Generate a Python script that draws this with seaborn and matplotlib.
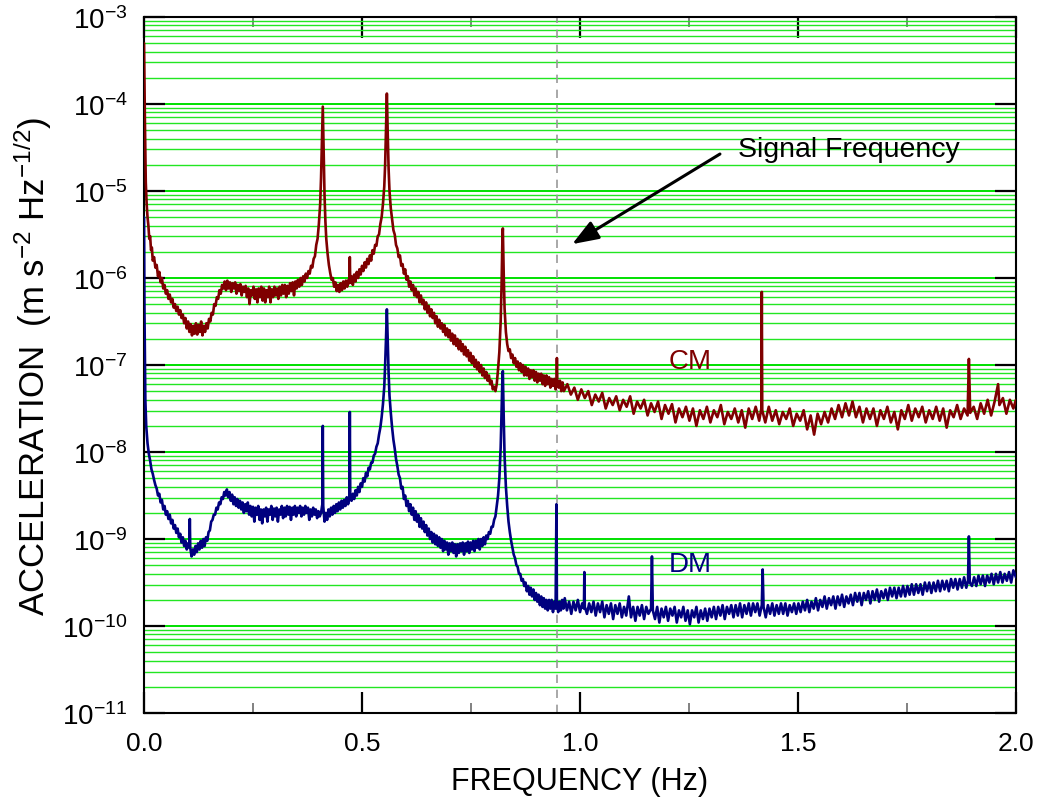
import numpy as np
import pandas as pd
import matplotlib
matplotlib.use("Agg")
import matplotlib.pyplot as plt
import seaborn as sns
from matplotlib.ticker import LogLocator, MultipleLocator, NullFormatter

# ---- data: (frequency Hz, log10 acceleration) ----
cm_points = [
    (0.000,-3.30),(0.002,-4.20),(0.004,-4.90),(0.006,-5.15),(0.008,-5.30),(0.010,-5.40),(0.012,-5.55),
    (0.014,-5.52),(0.016,-5.68),(0.018,-5.65),(0.020,-5.80),(0.023,-5.76),(0.026,-5.88),(0.029,-5.85),
    (0.032,-5.98),(0.035,-5.93),(0.038,-6.05),(0.041,-6.00),(0.044,-6.12),(0.047,-6.08),(0.050,-6.18),
    (0.053,-6.14),(0.056,-6.24),(0.059,-6.19),(0.062,-6.28),(0.065,-6.24),(0.068,-6.34),(0.071,-6.30),
    (0.074,-6.38),(0.077,-6.33),(0.080,-6.42),(0.083,-6.37),(0.086,-6.46),(0.089,-6.42),(0.092,-6.52),
    (0.095,-6.46),(0.098,-6.58),(0.101,-6.50),(0.104,-6.62),(0.107,-6.53),(0.110,-6.66),(0.113,-6.55),
    (0.116,-6.64),(0.119,-6.52),(0.122,-6.65),(0.125,-6.54),(0.128,-6.62),(0.131,-6.50),(0.134,-6.66),
    (0.137,-6.55),(0.140,-6.62),(0.143,-6.52),(0.146,-6.58),(0.149,-6.47),(0.152,-6.50),(0.155,-6.40),
    (0.158,-6.42),(0.161,-6.30),(0.164,-6.32),(0.167,-6.22),(0.170,-6.24),(0.173,-6.14),(0.176,-6.18),
    (0.179,-6.08),(0.182,-6.12),(0.185,-6.04),(0.188,-6.14),(0.191,-6.03),(0.194,-6.12),(0.197,-6.05),
    (0.200,-6.16),(0.203,-6.06),(0.206,-6.12),(0.209,-6.05),(0.212,-6.18),(0.215,-6.08),(0.218,-6.15),
    (0.221,-6.07),(0.224,-6.20),(0.227,-6.10),(0.230,-6.16),(0.233,-6.09),(0.236,-6.22),(0.239,-6.12),
    (0.242,-6.30),(0.245,-6.14),(0.248,-6.20),(0.251,-6.10),(0.254,-6.24),(0.257,-6.13),(0.260,-6.28),
    (0.263,-6.12),(0.266,-6.22),(0.269,-6.10),(0.272,-6.26),(0.275,-6.12),(0.278,-6.28),(0.281,-6.14),
    (0.284,-6.22),(0.287,-6.10),(0.290,-6.28),(0.293,-6.13),(0.296,-6.22),(0.299,-6.10),(0.302,-6.20),
    (0.305,-6.12),(0.308,-6.24),(0.311,-6.10),(0.314,-6.20),(0.317,-6.08),(0.320,-6.18),(0.323,-6.08),
    (0.326,-6.22),(0.329,-6.09),(0.332,-6.18),(0.335,-6.06),(0.338,-6.15),(0.341,-6.05),(0.344,-6.20),
    (0.347,-6.04),(0.350,-6.12),(0.353,-6.02),(0.356,-6.10),(0.359,-6.00),(0.362,-6.08),(0.365,-5.98),
    (0.368,-6.04),(0.371,-5.95),(0.374,-6.00),(0.377,-5.92),(0.380,-5.95),(0.383,-5.86),(0.386,-5.88),
    (0.389,-5.78),(0.392,-5.75),(0.395,-5.62),(0.398,-5.55),(0.401,-5.38),(0.404,-5.15),(0.406,-4.85),
    (0.408,-4.45),(0.410,-4.03),(0.412,-4.55),(0.414,-5.05),(0.416,-5.35),(0.418,-5.55),(0.421,-5.72),
    (0.424,-5.85),(0.427,-5.94),(0.430,-6.02),(0.433,-6.00),(0.436,-6.10),(0.439,-6.05),(0.442,-6.15),
    (0.445,-6.08),(0.448,-6.16),(0.451,-6.06),(0.454,-6.14),(0.457,-6.04),(0.460,-6.12),(0.463,-6.03),
    (0.466,-6.10),(0.469,-6.02),(0.471,-6.06),(0.472,-5.76),(0.473,-6.05),(0.476,-5.98),(0.479,-6.08),
    (0.482,-5.96),(0.485,-6.04),(0.488,-5.93),(0.491,-6.00),(0.494,-5.90),(0.497,-5.96),(0.500,-5.86),
    (0.503,-5.92),(0.506,-5.82),(0.509,-5.88),(0.512,-5.78),(0.515,-5.84),(0.518,-5.74),(0.521,-5.80),
    (0.524,-5.68),(0.527,-5.72),(0.530,-5.62),(0.533,-5.63),(0.536,-5.52),(0.539,-5.50),(0.542,-5.38),
    (0.545,-5.30),(0.548,-5.15),(0.551,-4.95),(0.553,-4.70),(0.555,-4.30),(0.557,-3.88),(0.559,-4.35),
    (0.561,-4.75),(0.563,-5.00),(0.566,-5.20),(0.569,-5.32),(0.572,-5.45),(0.575,-5.50),(0.578,-5.62),
    (0.581,-5.66),(0.584,-5.76),(0.587,-5.74),(0.590,-5.86),(0.593,-5.84),(0.596,-5.95),(0.599,-5.90),
    (0.602,-6.02),(0.605,-5.98),(0.608,-6.10),(0.611,-6.04),(0.614,-6.14),(0.617,-6.08),(0.620,-6.20),
    (0.623,-6.12),(0.626,-6.22),(0.629,-6.16),(0.632,-6.28),(0.635,-6.20),(0.638,-6.30),(0.641,-6.25),
    (0.644,-6.36),(0.647,-6.28),(0.650,-6.40),(0.653,-6.32),(0.656,-6.44),(0.659,-6.36),(0.662,-6.46),
    (0.665,-6.40),(0.668,-6.52),(0.671,-6.44),(0.674,-6.56),(0.677,-6.48),(0.680,-6.58),(0.683,-6.52),
    (0.686,-6.62),(0.689,-6.54),(0.692,-6.66),(0.695,-6.58),(0.698,-6.68),(0.701,-6.60),(0.704,-6.72),
    (0.707,-6.64),(0.710,-6.76),(0.713,-6.66),(0.716,-6.78),(0.719,-6.70),(0.722,-6.82),(0.725,-6.72),
    (0.728,-6.84),(0.731,-6.76),(0.734,-6.88),(0.737,-6.79),(0.740,-6.90),(0.743,-6.83),(0.746,-6.95),
    (0.749,-6.86),(0.752,-6.98),(0.755,-6.90),(0.758,-7.02),(0.761,-6.94),(0.764,-7.05),(0.767,-6.97),
    (0.770,-7.08),(0.773,-7.00),(0.776,-7.12),(0.779,-7.04),(0.782,-7.15),(0.785,-7.08),(0.788,-7.18),
    (0.791,-7.12),(0.794,-7.22),(0.797,-7.18),(0.800,-7.28),(0.803,-7.25),(0.806,-7.30),(0.809,-7.22),
    (0.812,-7.05),(0.815,-6.85),(0.818,-6.50),(0.820,-6.10),(0.822,-5.55),(0.823,-5.43),(0.825,-5.95),
    (0.827,-6.35),(0.830,-6.62),(0.833,-6.76),(0.836,-6.84),(0.839,-6.82),(0.842,-6.92),(0.845,-6.88),
    (0.848,-6.98),(0.851,-6.92),(0.854,-7.02),(0.857,-6.96),(0.860,-7.06),(0.863,-6.98),(0.866,-7.08),
    (0.869,-7.00),(0.872,-7.12),(0.875,-7.02),(0.878,-7.12),(0.881,-7.04),(0.884,-7.16),(0.887,-7.06),
    (0.890,-7.14),(0.893,-7.06),(0.896,-7.18),(0.899,-7.08),(0.902,-7.20),(0.905,-7.10),(0.908,-7.18),
    (0.911,-7.10),(0.914,-7.22),(0.917,-7.12),(0.920,-7.24),(0.923,-7.12),(0.926,-7.22),(0.929,-7.14),
    (0.932,-7.26),(0.935,-7.16),(0.938,-7.24),(0.941,-7.16),(0.944,-7.28),(0.946,-7.20),(0.947,-6.92),
    (0.948,-7.20),(0.951,-7.26),(0.954,-7.18),(0.957,-7.30),(0.960,-7.20),
    (0.963,-7.30),(0.971,-7.22),(0.979,-7.34),(0.987,-7.26),(0.995,-7.40),(1.003,-7.28),(1.011,-7.38),
    (1.019,-7.30),(1.027,-7.46),(1.035,-7.34),(1.043,-7.42),(1.051,-7.32),(1.059,-7.50),(1.067,-7.38),
    (1.075,-7.46),(1.083,-7.36),(1.091,-7.52),(1.099,-7.40),(1.107,-7.48),(1.115,-7.36),(1.123,-7.56),
    (1.131,-7.42),(1.139,-7.50),(1.147,-7.40),(1.155,-7.58),(1.163,-7.44),(1.171,-7.54),(1.179,-7.42),
    (1.187,-7.62),(1.195,-7.46),(1.203,-7.56),(1.211,-7.45),(1.219,-7.66),(1.227,-7.50),(1.235,-7.60),
    (1.243,-7.48),(1.251,-7.64),(1.259,-7.50),(1.267,-7.70),(1.275,-7.52),(1.283,-7.62),(1.291,-7.48),
    (1.299,-7.66),(1.307,-7.52),(1.315,-7.60),(1.323,-7.46),(1.331,-7.68),(1.339,-7.54),(1.347,-7.62),
    (1.355,-7.50),(1.363,-7.66),(1.371,-7.52),(1.379,-7.72),(1.387,-7.50),(1.395,-7.62),(1.403,-7.48),
    (1.411,-7.64),(1.416,-7.50),(1.417,-6.16),(1.418,-7.52),(1.425,-7.66),(1.433,-7.48),(1.441,-7.64),
    (1.449,-7.52),(1.457,-7.68),(1.465,-7.54),(1.473,-7.62),(1.481,-7.50),(1.489,-7.70),(1.497,-7.56),
    (1.505,-7.64),(1.513,-7.52),(1.521,-7.74),(1.529,-7.58),(1.537,-7.80),(1.545,-7.56),(1.553,-7.68),
    (1.561,-7.54),(1.569,-7.66),(1.577,-7.50),(1.585,-7.62),(1.593,-7.46),(1.601,-7.60),(1.609,-7.44),
    (1.617,-7.58),(1.625,-7.42),(1.633,-7.60),(1.641,-7.48),(1.649,-7.66),(1.657,-7.50),(1.665,-7.62),
    (1.673,-7.50),(1.681,-7.70),(1.689,-7.52),(1.697,-7.62),(1.705,-7.48),(1.713,-7.66),(1.721,-7.54),
    (1.729,-7.74),(1.737,-7.52),(1.745,-7.62),(1.753,-7.46),(1.761,-7.64),(1.769,-7.50),(1.777,-7.60),
    (1.785,-7.48),(1.793,-7.66),(1.801,-7.52),(1.809,-7.62),(1.817,-7.48),(1.825,-7.64),(1.833,-7.50),
    (1.841,-7.72),(1.849,-7.52),(1.857,-7.60),(1.865,-7.46),(1.873,-7.62),(1.881,-7.50),(1.889,-7.58),
    (1.892,-6.93),(1.895,-7.55),(1.903,-7.48),(1.911,-7.62),(1.919,-7.44),(1.927,-7.56),(1.935,-7.40),
    (1.943,-7.58),(1.951,-7.42),(1.959,-7.22),(1.962,-7.46),(1.970,-7.38),(1.978,-7.56),(1.986,-7.40),
    (1.994,-7.50),(2.000,-7.40),
]

dm_points = [
    (0.000,-5.30),(0.001,-6.40),(0.003,-7.40),(0.005,-7.70),(0.008,-7.90),(0.011,-8.02),(0.014,-8.10),
    (0.017,-8.20),(0.020,-8.25),(0.023,-8.32),(0.026,-8.38),(0.029,-8.42),(0.032,-8.50),(0.035,-8.48),
    (0.038,-8.58),(0.041,-8.55),(0.044,-8.66),(0.047,-8.62),(0.050,-8.72),(0.053,-8.68),(0.056,-8.77),
    (0.059,-8.72),(0.062,-8.82),(0.065,-8.78),(0.068,-8.88),(0.071,-8.84),(0.074,-8.93),(0.077,-8.88),
    (0.080,-8.98),(0.083,-8.94),(0.086,-9.04),(0.089,-8.98),(0.092,-9.08),(0.095,-9.02),(0.098,-9.12),
    (0.101,-9.05),(0.104,-9.10),(0.105,-8.77),(0.106,-9.10),(0.109,-9.20),(0.112,-9.12),(0.115,-9.18),
    (0.118,-9.08),(0.121,-9.15),(0.124,-9.05),(0.127,-9.12),(0.130,-9.02),(0.133,-9.10),(0.136,-9.00),
    (0.139,-9.08),(0.142,-8.98),(0.145,-9.02),(0.148,-8.92),(0.151,-8.90),(0.154,-8.80),(0.157,-8.78),
    (0.160,-8.72),(0.163,-8.72),(0.166,-8.64),(0.169,-8.66),(0.172,-8.58),(0.175,-8.60),(0.178,-8.52),
    (0.181,-8.54),(0.184,-8.46),(0.187,-8.50),(0.190,-8.43),(0.193,-8.52),(0.196,-8.46),(0.199,-8.56),
    (0.202,-8.49),(0.205,-8.60),(0.208,-8.52),(0.211,-8.62),(0.214,-8.54),(0.217,-8.64),(0.220,-8.56),
    (0.223,-8.66),(0.226,-8.58),(0.229,-8.70),(0.232,-8.60),(0.235,-8.68),(0.238,-8.58),(0.241,-8.72),
    (0.244,-8.62),(0.247,-8.74),(0.250,-8.63),(0.253,-8.80),(0.256,-8.64),(0.259,-8.72),(0.262,-8.62),
    (0.265,-8.78),(0.268,-8.66),(0.271,-8.82),(0.274,-8.66),(0.277,-8.74),(0.280,-8.64),(0.283,-8.80),
    (0.286,-8.66),(0.289,-8.72),(0.292,-8.62),(0.295,-8.78),(0.298,-8.65),(0.301,-8.74),(0.304,-8.64),
    (0.307,-8.80),(0.310,-8.66),(0.313,-8.72),(0.316,-8.62),(0.319,-8.76),(0.322,-8.64),(0.325,-8.74),
    (0.328,-8.62),(0.331,-8.72),(0.334,-8.63),(0.337,-8.78),(0.340,-8.64),(0.343,-8.72),(0.346,-8.62),
    (0.349,-8.74),(0.352,-8.64),(0.355,-8.70),(0.358,-8.62),(0.361,-8.74),(0.364,-8.64),(0.367,-8.72),
    (0.370,-8.62),(0.373,-8.70),(0.376,-8.64),(0.379,-8.78),(0.382,-8.66),(0.385,-8.74),(0.388,-8.64),
    (0.391,-8.72),(0.394,-8.66),(0.397,-8.76),(0.400,-8.68),(0.403,-8.74),(0.406,-8.70),(0.409,-8.60),
    (0.410,-7.70),(0.411,-8.62),(0.414,-8.80),(0.417,-8.70),(0.420,-8.78),(0.423,-8.66),(0.426,-8.74),
    (0.429,-8.64),(0.432,-8.72),(0.435,-8.62),(0.438,-8.70),(0.441,-8.60),(0.444,-8.68),(0.447,-8.58),
    (0.450,-8.66),(0.453,-8.56),(0.456,-8.64),(0.459,-8.55),(0.462,-8.62),(0.465,-8.52),(0.468,-8.60),
    (0.471,-8.54),(0.472,-7.54),(0.473,-8.52),(0.476,-8.56),(0.479,-8.48),(0.482,-8.54),(0.485,-8.44),
    (0.488,-8.50),(0.491,-8.40),(0.494,-8.46),(0.497,-8.36),(0.500,-8.40),(0.503,-8.30),(0.506,-8.34),
    (0.509,-8.24),(0.512,-8.28),(0.515,-8.18),(0.518,-8.20),(0.521,-8.12),(0.524,-8.12),(0.527,-8.04),
    (0.530,-8.02),(0.533,-7.94),(0.536,-7.90),(0.539,-7.80),(0.542,-7.72),(0.545,-7.60),(0.548,-7.45),
    (0.551,-7.25),(0.553,-7.00),(0.555,-6.70),(0.557,-6.36),(0.559,-6.75),(0.561,-7.10),(0.563,-7.35),
    (0.566,-7.55),(0.569,-7.72),(0.572,-7.86),(0.575,-7.96),(0.578,-8.08),(0.581,-8.16),(0.584,-8.26),
    (0.587,-8.30),(0.590,-8.42),(0.593,-8.40),(0.596,-8.54),(0.599,-8.50),(0.602,-8.62),(0.605,-8.56),
    (0.608,-8.68),(0.611,-8.60),(0.614,-8.72),(0.617,-8.64),(0.620,-8.78),(0.623,-8.68),(0.626,-8.80),
    (0.629,-8.72),(0.632,-8.86),(0.635,-8.76),(0.638,-8.88),(0.641,-8.80),(0.644,-8.92),(0.647,-8.84),
    (0.650,-8.96),(0.653,-8.88),(0.656,-9.00),(0.659,-8.92),(0.662,-9.04),(0.665,-8.94),(0.668,-9.06),
    (0.671,-8.96),(0.674,-9.08),(0.677,-8.98),(0.680,-9.10),(0.683,-9.00),(0.686,-9.14),(0.689,-9.02),
    (0.692,-9.12),(0.695,-9.04),(0.698,-9.18),(0.701,-9.05),(0.704,-9.14),(0.707,-9.04),(0.710,-9.16),
    (0.713,-9.06),(0.716,-9.20),(0.719,-9.06),(0.722,-9.16),(0.725,-9.05),(0.728,-9.14),(0.731,-9.04),
    (0.734,-9.18),(0.737,-9.05),(0.740,-9.14),(0.743,-9.03),(0.746,-9.16),(0.749,-9.04),(0.752,-9.12),
    (0.755,-9.02),(0.758,-9.14),(0.761,-9.02),(0.764,-9.10),(0.767,-9.00),(0.770,-9.12),(0.773,-9.00),
    (0.776,-9.08),(0.779,-8.98),(0.782,-9.06),(0.785,-8.96),(0.788,-9.00),(0.791,-8.92),(0.794,-8.94),
    (0.797,-8.86),(0.800,-8.86),(0.803,-8.78),(0.806,-8.74),(0.809,-8.62),(0.812,-8.50),(0.815,-8.30),
    (0.818,-7.95),(0.820,-7.55),(0.822,-7.15),(0.823,-7.07),(0.825,-7.60),(0.827,-8.05),(0.830,-8.40),
    (0.833,-8.62),(0.836,-8.80),(0.839,-8.92),(0.842,-9.02),(0.845,-9.10),(0.848,-9.18),(0.851,-9.22),
    (0.854,-9.30),(0.857,-9.32),(0.860,-9.40),(0.863,-9.40),(0.866,-9.48),(0.869,-9.46),(0.872,-9.54),
    (0.875,-9.50),(0.878,-9.60),(0.881,-9.54),(0.884,-9.64),(0.887,-9.56),(0.890,-9.66),(0.893,-9.58),
    (0.896,-9.70),(0.899,-9.62),(0.902,-9.72),(0.905,-9.64),(0.908,-9.76),(0.911,-9.66),(0.914,-9.78),
    (0.917,-9.68),(0.920,-9.80),(0.923,-9.70),(0.926,-9.82),(0.929,-9.70),(0.932,-9.80),(0.935,-9.70),
    (0.938,-9.84),(0.941,-9.72),(0.944,-9.80),(0.946,-8.60),(0.947,-9.74),(0.950,-9.84),(0.953,-9.72),
    (0.956,-9.82),(0.959,-9.70),(0.962,-9.80),(0.965,-9.68),(0.970,-9.82),(0.975,-9.72),(0.980,-9.86),
    (0.985,-9.72),(0.990,-9.82),(0.995,-9.70),(1.000,-9.84),(1.005,-9.74),(1.009,-9.80),(1.010,-9.38),
    (1.011,-9.78),(1.016,-9.86),(1.021,-9.74),(1.026,-9.84),(1.031,-9.72),(1.036,-9.88),(1.041,-9.74),
    (1.046,-9.84),(1.051,-9.72),(1.056,-9.90),(1.061,-9.76),(1.066,-9.86),(1.071,-9.74),(1.076,-9.92),
    (1.081,-9.76),(1.086,-9.86),(1.091,-9.74),(1.096,-9.90),(1.101,-9.78),(1.106,-9.88),(1.112,-9.66),
    (1.117,-9.90),(1.122,-9.78),(1.127,-9.94),(1.132,-9.78),(1.137,-9.88),(1.142,-9.76),(1.147,-9.92),
    (1.152,-9.78),(1.157,-9.86),(1.163,-9.80),(1.165,-9.20),(1.167,-9.82),(1.172,-9.92),(1.177,-9.78),
    (1.182,-9.96),(1.187,-9.80),(1.192,-9.90),(1.197,-9.78),(1.202,-9.94),(1.207,-9.80),(1.212,-9.88),
    (1.217,-9.78),(1.222,-9.96),(1.227,-9.82),(1.232,-9.90),(1.237,-9.78),(1.242,-9.94),(1.247,-9.82),
    (1.252,-9.98),(1.257,-9.82),(1.262,-9.90),(1.267,-9.78),(1.272,-9.96),(1.277,-9.82),(1.282,-9.92),
    (1.287,-9.80),(1.292,-9.94),(1.297,-9.80),(1.302,-9.90),(1.307,-9.78),(1.312,-9.92),(1.317,-9.78),
    (1.322,-9.88),(1.327,-9.76),(1.332,-9.92),(1.337,-9.78),(1.342,-9.86),(1.347,-9.76),(1.352,-9.90),
    (1.357,-9.76),(1.362,-9.88),(1.367,-9.74),(1.372,-9.90),(1.377,-9.76),(1.382,-9.86),(1.387,-9.74),
    (1.392,-9.88),(1.397,-9.74),(1.402,-9.84),(1.407,-9.74),(1.412,-9.88),(1.417,-9.76),(1.419,-9.35),
    (1.421,-9.78),(1.426,-9.90),(1.431,-9.76),(1.436,-9.86),(1.441,-9.74),(1.446,-9.88),(1.451,-9.76),
    (1.456,-9.86),(1.461,-9.74),(1.466,-9.86),(1.471,-9.74),(1.476,-9.88),(1.481,-9.76),(1.486,-9.84),
    (1.491,-9.74),(1.496,-9.86),(1.501,-9.74),(1.506,-9.84),(1.511,-9.72),(1.516,-9.82),(1.521,-9.70),
    (1.526,-9.84),(1.531,-9.72),(1.536,-9.80),(1.541,-9.68),(1.546,-9.82),(1.551,-9.70),(1.556,-9.78),
    (1.561,-9.66),(1.566,-9.80),(1.571,-9.68),(1.576,-9.76),(1.581,-9.66),(1.586,-9.80),(1.591,-9.66),
    (1.596,-9.76),(1.601,-9.64),(1.606,-9.78),(1.611,-9.66),(1.616,-9.74),(1.621,-9.64),(1.626,-9.76),
    (1.631,-9.62),(1.636,-9.72),(1.641,-9.62),(1.646,-9.76),(1.651,-9.62),(1.656,-9.70),(1.661,-9.60),
    (1.666,-9.74),(1.671,-9.60),(1.676,-9.70),(1.681,-9.58),(1.686,-9.72),(1.691,-9.60),(1.696,-9.68),
    (1.701,-9.58),(1.706,-9.70),(1.711,-9.56),(1.716,-9.66),(1.721,-9.56),(1.726,-9.68),(1.731,-9.56),
    (1.736,-9.66),(1.741,-9.54),(1.746,-9.66),(1.751,-9.54),(1.756,-9.64),(1.761,-9.52),(1.766,-9.64),
    (1.771,-9.52),(1.776,-9.62),(1.781,-9.52),(1.786,-9.64),(1.791,-9.50),(1.796,-9.60),(1.801,-9.50),
    (1.806,-9.62),(1.811,-9.50),(1.816,-9.60),(1.821,-9.48),(1.826,-9.60),(1.831,-9.48),(1.836,-9.58),
    (1.841,-9.48),(1.846,-9.60),(1.851,-9.46),(1.856,-9.56),(1.861,-9.46),(1.866,-9.58),(1.871,-9.46),
    (1.876,-9.56),(1.881,-9.44),(1.886,-9.56),(1.890,-9.48),(1.892,-8.97),(1.894,-9.50),(1.899,-9.54),
    (1.904,-9.44),(1.909,-9.54),(1.914,-9.42),(1.919,-9.52),(1.924,-9.42),(1.929,-9.54),(1.934,-9.42),
    (1.939,-9.50),(1.944,-9.40),(1.949,-9.52),(1.954,-9.40),(1.959,-9.50),(1.964,-9.38),(1.969,-9.50),
    (1.974,-9.40),(1.979,-9.48),(1.984,-9.38),(1.989,-9.50),(1.994,-9.36),(2.000,-9.44),
]

series_names = ["CM", "DM"]
series_colors = ["#7f0000", "#00007f"]
signal_frequency = 0.947
x_ticks = [0.0, 0.5, 1.0, 1.5, 2.0]
x_tick_labels = ["0.0", "0.5", "1.0", "1.5", "2.0"]

# ---- build table ----
frames = []
for name, pts in zip(series_names, [cm_points, dm_points]):
    arr = np.array(pts)
    frames.append(pd.DataFrame({"freq": arr[:, 0], "acc": 10.0 ** arr[:, 1], "series": name}))
df = pd.concat(frames, ignore_index=True)

sns.set_style("white")
plt.rcParams["font.family"] = ["Liberation Sans", "DejaVu Sans"]
plt.rcParams["mathtext.default"] = "regular"
for key in ["text.color", "axes.labelcolor", "xtick.color", "ytick.color",
            "xtick.labelcolor", "ytick.labelcolor"]:
    plt.rcParams[key] = "black"

fig = plt.figure(figsize=(10.4, 8.03), dpi=100)
ax = fig.add_axes([0.1385, 0.1108, 0.8384, 0.8668])

sns.lineplot(data=df, x="freq", y="acc", hue="series", hue_order=series_names,
             palette=series_colors, estimator=None, sort=False, linewidth=1.9,
             legend=False, ax=ax, zorder=3)

ax.set_yscale("log")
ax.set_xlim(0, 2.0)
ax.set_ylim(1e-11, 1e-3)

# green horizontal grid at every decade and every 2..9 sub-decade
ax.yaxis.set_major_locator(LogLocator(base=10, numticks=20))
ax.yaxis.set_minor_locator(LogLocator(base=10, subs=np.arange(2, 10), numticks=20))
ax.yaxis.set_minor_formatter(NullFormatter())
ax.grid(False)
ax.yaxis.grid(True, which="major", color="#00e000", linewidth=1.4, zorder=0)
ax.yaxis.grid(True, which="minor", color="#22e622", linewidth=1.0, zorder=0)
ax.set_axisbelow(True)

ax.set_xticks(x_ticks)
ax.set_xticklabels(x_tick_labels)
ax.xaxis.set_minor_locator(MultipleLocator(0.25))

ax.tick_params(axis="both", which="major", direction="in", length=15, width=1.6,
               color="black", labelcolor="black", labelsize=19, pad=13,
               top=True, right=True, bottom=True, left=True)
ax.tick_params(axis="y", which="major", labelsize=20, pad=12)
ax.tick_params(axis="x", which="minor", direction="in", length=7, width=1.3,
               color="#777777", top=True, bottom=True)
ax.tick_params(axis="y", which="minor", length=0, left=False, right=False)

for sp in ax.spines.values():
    sp.set_color("black")
    sp.set_linewidth(1.5)

# signal frequency marker
ax.axvline(signal_frequency, color="#999999", linestyle=(0, (5, 4)), linewidth=1.2, zorder=2)

ax.annotate("", xy=(0.982, 2.45e-6), xytext=(1.321, 2.66e-5),
            arrowprops=dict(arrowstyle="-|>,head_length=1.6,head_width=0.6",
                            color="black", lw=2.2, shrinkA=0, shrinkB=0), zorder=5)
ax.text(1.362, 3.0e-5, "Signal Frequency", fontsize=20.5, color="black",
        ha="left", va="center", zorder=5)
ax.text(1.252, 1.12e-7, "CM", fontsize=20, color=series_colors[0], ha="center", va="center", zorder=5)
ax.text(1.252, 5.1e-10, "DM", fontsize=20, color=series_colors[1], ha="center", va="center", zorder=5)

ax.set_xlabel("FREQUENCY (Hz)", fontsize=22, labelpad=8)
ax.set_ylabel(r"ACCELERATION  (m s$^{-2}$ Hz$^{-1/2}$)", fontsize=25, labelpad=6)

fig.savefig("out.png", dpi=100)
